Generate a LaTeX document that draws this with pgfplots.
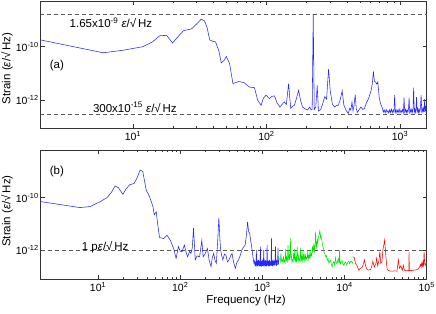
\documentclass[border=0pt]{standalone}
\usepackage{pgfplots}
\pgfplotsset{compat=1.18}
\usepackage{fontspec}
\setmainfont{Liberation Sans}
\newcommand{\un}{\textit{ε}/√\,Hz}
\pgfplotsset{
  every axis/.append style={
    scale only axis, width=386pt,
    xmode=log, ymode=log,
    axis line style={black!80, line width=0.6pt},
    tick style={black!80, line width=0.5pt},
    major tick length=4pt, minor tick length=2pt,
    tick align=inside,
    ytick={1e-12,1e-10},
    yticklabels={10\textsuperscript{-12},10\textsuperscript{-10}},
    yminorticks=false,
    tick label style={font=\fontsize{10.5}{12}\selectfont},
    label style={font=\fontsize{11.5}{13}\selectfont},
    yticklabel style={xshift=1.5pt},
    clip=true,
  },
  dsh/.style={black!65, line width=0.6pt, dash pattern=on 4pt off 3pt},
  trace/.style={line width=0.55pt},
}
\begin{document}
\begin{tikzpicture}
\useasboundingbox (0pt,0pt) rectangle (436pt,-313pt);
% ---------------- panel (a)
\begin{axis}[at={(40.7pt,-128pt)}, anchor=south west, height=127pt,
  xmin=2.04, xmax=1585, ymin=9.2e-14, ymax=5.06e-9,
  xtick={10,100,1000},
  xticklabels={10\textsuperscript{1},10\textsuperscript{2},10\textsuperscript{3}},
  ylabel={Strain (\un)},
  ylabel style={at={(axis description cs:-0.087,0.47)}, anchor=center},
]
\addplot[dsh] coordinates {(2,1.65e-9) (1600,1.65e-9)};
\addplot[dsh] coordinates {(2,3e-13) (1600,3e-13)};
\addplot[blue!85!white, trace] coordinates {
(2.04,1.78e-10) (6,5.9e-11) (8.5,7.4e-11) (11.9,1e-10) (14,1.5e-10) (15.9,2.57e-10) (17.9,2.63e-10)
(19.8,1.38e-10) (22,2.5e-10) (24,3.98e-10) (27.4,4.57e-10) (30,7e-10) (32.5,1.07e-9) (34.4,9.1e-10)
(36,5e-10) (37.6,1.78e-10) (39.8,1.58e-10) (41.6,1.5e-10) (44,7e-11) (45.9,2.5e-11) (48,3e-11)
(50.1,4.3e-11) (53,2.3e-11) (56.1,4.2e-12) (62.2,5e-12) (68,4.5e-12) (74.7,3.1e-12) (81.3,2.95e-12)
(86,1e-12) (91.2,6.5e-13) (95,1.2e-12) (99.5,1.55e-12) (105,1.15e-12) (110,1.4e-12) (115,1.45e-12)
(120,8e-13) (126,5.6e-13) (131,7e-13) (136,8.7e-13) (141,7e-13) (146.5,4.2e-12) (149,1.5e-12)
(152,5e-13) (157,6e-13) (162,6.5e-13) (168,1.2e-12) (174,2.35e-12) (180,1e-12) (186,5.6e-13)
(195,4.8e-13) (203,4.3e-13) (211,5.6e-13) (216,4.3e-13) (220,4.6e-13) (224,1.62e-9) (228,4.5e-13)
(234,5.5e-13) (240,3.6e-12) (245,4e-13) (255,4.5e-13) (265,8e-13) (273,1.35e-12) (282,1.1e-12)
(292,1.48e-11) (300,2.35e-12) (312,7e-13) (324,5.6e-13) (335,6.5e-13) (345,6.5e-13) (356,1e-12)
(369,2.24e-12) (380,6.5e-13) (395,4.2e-13) (410,3.2e-13) (420,5e-13) (428,4.3e-13) (437,8.5e-13)
(445,4e-13) (452,6e-13) (462,1.62e-12) (470,5e-13) (480,3.55e-13) (495,4.5e-13) (510,5.6e-13)
(525,4.5e-13) (543,5e-13) (560,8e-13) (582,1.15e-12) (608,2.35e-12) (620,4e-12) (632,1.2e-11)
(644,5e-12) (656,4.8e-12) (670,4e-12) (682,4.8e-12) (700,1.2e-12) (714,7.6e-13) (740,5e-13)
(750,3.6e-13) (762,4.3e-13) (775,3.4e-13) (788,4.5e-13) (800,3.6e-13) (812,4.1e-13) (825,3.3e-13)
(838,4.4e-13) (850,3.5e-13) (862,4.7e-13) (875,3.4e-13) (888,4.2e-13) (900,3.6e-13) (912,1.55e-12)
(922,3.5e-13) (935,4.4e-13) (948,3.3e-13) (960,4.2e-13) (972,3.6e-13) (985,4.8e-13) (1000,3.4e-13)
(1015,4.3e-13) (1030,3.5e-13) (1045,4.5e-13) (1060,3.4e-13) (1072,1.26e-12) (1085,3.6e-13)
(1100,4.6e-13) (1115,3.4e-13) (1130,4.4e-13) (1145,3.5e-13) (1158,4.8e-13) (1170,1.26e-12)
(1182,3.6e-13) (1195,4.5e-13) (1210,3.4e-13) (1225,4.6e-13) (1240,3.6e-13) (1252,5e-13)
(1265,2.95e-12) (1278,3.6e-13) (1292,4.7e-13) (1305,3.5e-13) (1318,4.5e-13) (1330,1.3e-12)
(1345,3.7e-13) (1360,4.8e-13) (1375,3.5e-13) (1390,4.6e-13) (1405,3.6e-13) (1420,5e-13)
(1440,1.55e-12) (1455,3.8e-13) (1470,4.9e-13) (1485,3.6e-13) (1500,5.2e-13) (1515,3.7e-13)
(1530,1.1e-12) (1545,4e-13) (1560,5.3e-13) (1575,3.8e-13) (1590,4.6e-13)
};
\node[font=\fontsize{11.5}{13}\selectfont] at (rel axis cs:0.182,0.828) {1.65x10\textsuperscript{-9} \un};
\node[font=\fontsize{11.5}{13}\selectfont] at (rel axis cs:0.244,0.164) {300x10\textsuperscript{-15} \un};
\node[font=\fontsize{11.5}{13}\selectfont] at (rel axis cs:0.042,0.49) {(a)};
\end{axis}
% ---------------- panel (b)
\begin{axis}[at={(40.7pt,-279pt)}, anchor=south west, height=129pt,
  xmin=2, xmax=1e5, ymin=7.8e-14, ymax=6.67e-9,
  xtick={10,100,1000,10000,100000},
  xticklabels={10\textsuperscript{1},10\textsuperscript{2},10\textsuperscript{3},10\textsuperscript{4},10\textsuperscript{5}},
  ylabel={Strain (\un)},
  ylabel style={at={(axis description cs:-0.087,0.527)}, anchor=center},
  xlabel={Frequency (Hz)},
  xlabel style={at={(axis description cs:0.532,-0.163)}, anchor=center},
]
\addplot[dsh] coordinates {(2,1e-12) (1e5,1e-12)};
\addplot[blue!85!white, trace] coordinates {
(2,7.1e-11) (6,4.2e-11) (8,4.6e-11) (10.6,7.1e-11) (12.8,1e-10) (14.5,1.6e-10) (16.1,2.8e-10)
(17.7,2.4e-10) (20,1.35e-10) (22,2.2e-10) (24.1,3.1e-10) (27.5,3.55e-10) (30,6e-10) (32.5,1.15e-9)
(35,1e-9) (38.5,1.95e-10) (42.3,1.1e-10) (46.5,4.6e-11) (48.2,2.2e-11) (51,2.9e-11) (53.5,8e-12)
(56,3e-12) (63,2.75e-12) (69,3.7e-12) (75.5,2.4e-12) (83,1.15e-12) (89,4.8e-13) (95,1.35e-12)
(100,9e-13) (105,8.5e-13) (112,1.55e-12) (118,8e-13) (123,5.5e-13) (130,9e-13) (135,7.4e-13)
(140,1.2e-12) (145,6.8e-12) (149,1.5e-12) (152,4.2e-13) (160,6e-13) (172,5.5e-13) (183,2.4e-12)
(190,5.5e-13) (200,7e-13) (214,1.15e-12) (225,4e-13) (237,2.3e-13) (245,5e-13) (255,7.4e-13)
(265,4e-13) (275,3.1e-13) (285,2e-12) (295,1.74e-11) (303,3e-12) (310,1e-12) (320,6e-13)
(330,4.2e-13) (345,7e-13) (360,6.3e-13) (375,3.5e-13) (390,4e-13) (410,6e-13) (427,7.4e-13)
(445,3.5e-13) (468,2e-13) (490,3.5e-13) (513,4.2e-13) (535,6e-13) (562,1e-12) (590,1.3e-12)
(617,1.55e-12) (640,4e-12) (660,1.2e-11) (680,5e-12) (700,4.4e-12) (725,2e-12) (750,1e-12)
(770,5e-13) (790,3.1e-13) (805,3.8e-13) (815,2.5e-13) (825,3.6e-13) (835,2.3e-13) (845,1e-12)
(852,2.6e-13) (862,3.9e-13) (872,2.4e-13) (882,3.5e-13) (892,2.6e-13) (902,4.2e-13) (912,2.3e-13)
(925,3.7e-13) (935,2.5e-13) (946,1.35e-12) (955,2.4e-13) (966,3.8e-13) (977,2.3e-13) (988,4e-13)
(1000,2.5e-13) (1012,3.6e-13) (1025,2.4e-13) (1038,1e-12) (1050,2.6e-13) (1062,3.9e-13)
(1075,2.3e-13) (1088,4.1e-13) (1100,2.5e-13) (1113,3.7e-13) (1126,2.4e-13) (1140,1.55e-12)
(1152,2.6e-13) (1165,4e-13) (1178,2.4e-13) (1192,3.8e-13) (1205,2.5e-13) (1220,4.2e-13)
(1234,2.4e-13) (1248,3.7e-13) (1262,2.6e-13) (1276,4e-13) (1290,2.8e-12) (1300,2.5e-13)
(1315,3.9e-13) (1330,2.4e-13) (1345,4.3e-13) (1360,2.6e-13) (1375,3.8e-13) (1390,2.5e-13)
(1405,4e-13) (1420,2.7e-13) (1443,1.35e-12) (1458,2.6e-13) (1472,4.2e-13) (1487,2.5e-13)
(1502,3.9e-13) (1517,2.7e-13) (1532,4.4e-13) (1550,1.2e-12) (1565,2.8e-13) (1585,4e-13)
};
\addplot[green!90!black, trace] coordinates {
(1620,5e-13) (1650,3.6e-13) (1680,7.4e-13) (1710,3.8e-13) (1740,4.2e-13) (1770,3.4e-13) (1800,6e-13)
(1830,3.5e-13) (1860,4e-13) (1890,3.3e-13) (1920,1.1e-12) (1950,3.6e-13) (1980,5e-13) (2015,3.8e-13)
(2050,1.55e-12) (2085,4e-13) (2120,6e-13) (2155,4.2e-13) (2190,2.8e-12) (2220,5e-13) (2250,7e-13)
(2285,3.5e-13) (2320,4.2e-13) (2360,3.6e-13) (2400,8e-13) (2440,4e-13) (2480,1.15e-12) (2520,3.8e-13)
(2560,5e-13) (2600,3.7e-13) (2650,1.35e-12) (2695,4e-13) (2740,6e-13) (2785,3.6e-13) (2830,4.5e-13)
(2875,3.8e-13) (2920,1.2e-12) (2970,4e-13) (3020,5.5e-13) (3070,3.9e-13) (3120,1e-12) (3170,4.2e-13)
(3220,6e-13) (3275,4e-13) (3330,7e-13) (3385,4.2e-13) (3440,5e-13) (3500,4.3e-13) (3560,9e-13)
(3620,4.6e-13) (3680,6e-13) (3740,5e-13) (3800,1e-12) (3865,5.5e-13) (3930,7e-13) (3995,6e-13)
(4060,1.4e-12) (4150,8e-13) (4230,1.8e-12) (4290,9e-13) (4350,1.2e-12) (4400,2e-12) (4440,5e-12)
(4500,1.6e-12) (4550,1.3e-12) (4600,1.9e-12) (4650,2.4e-12) (4720,1.8e-12) (4800,3e-12) (4880,3.6e-12)
(4940,4.5e-12) (5000,5.5e-12) (5050,4.2e-12) (5100,3e-12) (5170,3.5e-12) (5250,2.8e-12) (5350,1.8e-12)
(5450,1.3e-12) (5550,1.1e-12) (5650,8e-13) (5770,7e-13) (5900,5.5e-13) (6020,6.2e-13) (6150,4e-13)
(6300,4.6e-13) (6460,3.1e-13) (6600,3.8e-13) (6750,4e-13) (6900,2.8e-13) (7080,2.3e-13) (7240,3.2e-13)
(7400,3.5e-13) (7580,2.7e-13) (7770,5e-13) (7940,3.2e-13) (8100,3e-13) (8250,3.9e-13) (8400,4.5e-13)
(8550,3.1e-13) (8700,1e-12) (8800,3.3e-13) (8900,3e-13) (9100,3.7e-13) (9300,4e-13) (9550,2.9e-13)
(9800,2.6e-13) (10050,3.2e-13) (10300,3.5e-13) (10550,2.8e-13) (10800,3e-13) (11050,3.6e-13)
(11300,3.8e-13) (11500,3e-13) (11700,3.4e-13) (11950,3.8e-13) (12200,3.6e-13) (12400,3.1e-13) (12600,3.4e-13)
};
\addplot[red, trace] coordinates {
(12600,5.5e-13) (13100,5.2e-13) (13600,3.1e-13) (14300,2.4e-13) (14900,1.7e-13) (15600,2e-13)
(16400,2.2e-13) (17000,3e-13) (17500,4.2e-13) (18000,2.5e-13) (18800,1.8e-13) (19800,1.7e-13)
(20800,1.8e-13) (21500,2.5e-13) (22100,3.7e-13) (23000,2.2e-13) (24000,3e-13) (24600,4.8e-13)
(25300,2.5e-13) (26200,4e-13) (26900,8.5e-13) (27600,3e-13) (28500,3.5e-13) (29300,1e-12)
(30800,2.4e-12) (31800,6e-13) (33000,1.8e-13) (35000,1.6e-13) (38000,1.55e-13) (41000,1.6e-13)
(43500,1.55e-13) (45200,4.2e-13) (46500,2e-13) (48500,2.5e-13) (50500,1.7e-13) (52000,2.6e-13)
(53500,1.7e-13) (56000,1.6e-13) (59000,1.65e-13) (60500,1.6e-13) (61000,8.5e-13) (61500,1.6e-13)
(65000,1.65e-13) (70000,1.7e-13) (75000,1.75e-13) (79000,1.9e-13) (82000,2.3e-13) (84000,2.8e-13)
(85500,2.2e-13) (87000,3.2e-13) (88500,2.4e-13) (90000,3.5e-13) (91500,2.6e-13) (93000,8.5e-13)
(94500,3e-13) (96000,2.6e-13) (98000,3.2e-13) (100000,3e-13)
};
\node[font=\fontsize{11.5}{13}\selectfont] at (rel axis cs:0.167,0.248) {1 p\un};
\node[font=\fontsize{11.5}{13}\selectfont] at (rel axis cs:0.042,0.83) {(b)};
\end{axis}
\end{tikzpicture}
\end{document}
